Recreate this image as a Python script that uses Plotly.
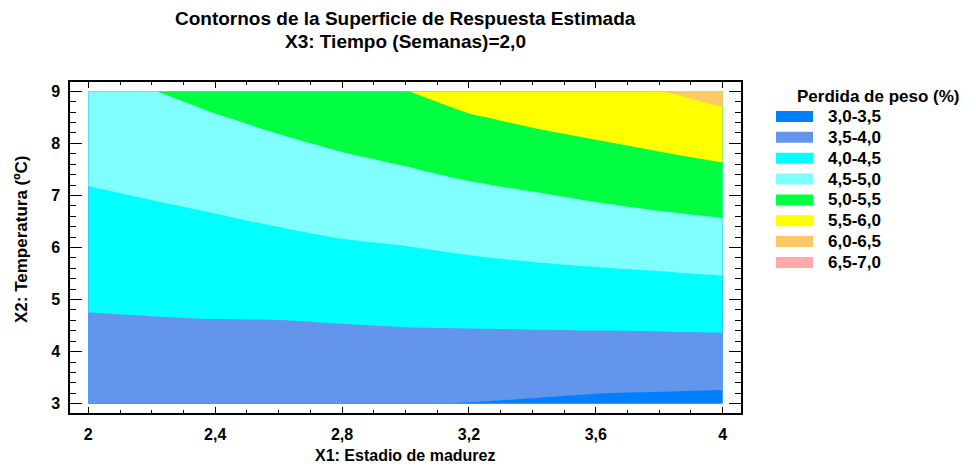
import plotly.graph_objects as go

# ---- data ----
x_vals = [2.0, 2.2, 2.4, 2.6, 2.8, 3.0, 3.2, 3.4, 3.6, 3.8, 4.0]          # X1: Estadio de madurez
y_vals = [3.0, 3.5, 4.0, 4.5, 5.0, 5.5, 6.0, 6.5, 7.0, 7.5, 8.0, 8.5, 9.0]  # X2: Temperatura
# estimated weight loss (%), one row per temperature, one column per stage
z_vals = [
    [3.65, 3.62, 3.60, 3.57, 3.54, 3.51, 3.49, 3.46, 3.42, 3.40, 3.38],
    [3.75, 3.73, 3.72, 3.70, 3.69, 3.67, 3.67, 3.65, 3.63, 3.62, 3.61],
    [3.85, 3.84, 3.84, 3.84, 3.84, 3.84, 3.84, 3.84, 3.83, 3.83, 3.84],
    [3.95, 3.96, 3.97, 3.97, 3.99, 4.01, 4.02, 4.03, 4.04, 4.05, 4.06],
    [4.05, 4.07, 4.09, 4.11, 4.14, 4.17, 4.20, 4.22, 4.25, 4.27, 4.29],
    [4.15, 4.18, 4.21, 4.25, 4.29, 4.33, 4.38, 4.42, 4.45, 4.48, 4.52],
    [4.26, 4.29, 4.34, 4.39, 4.45, 4.49, 4.55, 4.60, 4.65, 4.70, 4.75],
    [4.36, 4.41, 4.46, 4.53, 4.60, 4.66, 4.73, 4.79, 4.85, 4.91, 4.97],
    [4.46, 4.52, 4.59, 4.67, 4.75, 4.82, 4.90, 4.97, 5.05, 5.13, 5.20],
    [4.57, 4.64, 4.72, 4.81, 4.90, 4.98, 5.08, 5.17, 5.26, 5.35, 5.44],
    [4.68, 4.76, 4.85, 4.95, 5.05, 5.15, 5.28, 5.38, 5.47, 5.57, 5.67],
    [4.80, 4.87, 4.98, 5.09, 5.20, 5.32, 5.47, 5.58, 5.69, 5.78, 5.91],
    [4.91, 4.99, 5.12, 5.24, 5.36, 5.49, 5.67, 5.79, 5.91, 5.99, 6.14],
]
band_labels = ["3,0-3,5", "3,5-4,0", "4,0-4,5", "4,5-5,0",
               "5,0-5,5", "5,5-6,0", "6,0-6,5", "6,5-7,0"]
band_colors = ["#0080FF", "#6495ED", "#00FFFF", "#80FFFF",
               "#00FF40", "#FFFF00", "#FFC864", "#FFAAAA"]
level_start, level_end, level_step = 3.0, 7.0, 0.5

title_1 = "Contornos de la Superficie de Respuesta Estimada"
title_2 = "X3: Tiempo (Semanas)=2,0"
x_title = "X1: Estadio de madurez"
y_title = "X2: Temperatura (ºC)"
legend_title = "Perdida de peso (%)"

# ---- figure ----
OFF = 8                      # the page body adds an 8px margin
W, H = 976 - OFF, 466 - OFF
# plot frame in reference-picture pixels
FL, FR, FT, FB = 70, 741, 82, 413
L, R, T, B = FL - OFF, FR - OFF, FT - OFF, FB - OFF

def px(x):   # reference-picture pixel -> paper x
    return (x - FL) / (FR - FL)

def py(y):   # reference-picture pixel -> paper y
    return (FB - y) / (FB - FT)

# stepped colorscale: band k is sampled at (1+k)/9 by plotly's fill colouring
n = len(band_colors)
tot = n + 1
cscale = [[0, band_colors[0]]]
for k, c in enumerate(band_colors):
    lo = (k + 0.5) / tot if k > 0 else 0
    hi = (k + 1.5) / tot if k < n - 1 else 1
    cscale.append([lo, c])
    cscale.append([hi, c])

FONT = "Liberation Sans"

fig = go.Figure()
fig.add_trace(go.Contour(
    x=x_vals, y=y_vals, z=z_vals,
    contours=dict(start=level_start, end=level_end, size=level_step,
                  coloring="fill", showlines=False),
    line=dict(width=0, smoothing=0.9),
    colorscale=cscale,
    showscale=False,
    hoverinfo="skip",
))

def label(text, x, y, size, anchor="center", angle=0):
    return dict(text="<b>%s</b>" % text, x=px(x), y=py(y), xref="paper", yref="paper",
                showarrow=False, xanchor=anchor, yanchor="middle", textangle=angle,
                font=dict(family=FONT, size=size, color="black"))

ann = [
    label(title_1, 405, 19, 19),
    label(title_2, 405, 41, 19),
    label(x_title, 405, 455, 16),
    label(y_title, 21, 240, 17, angle=-90),
    label(legend_title, 795, 97, 17, anchor="left"),
]

shapes = []
for i, (lab, col) in enumerate(zip(band_labels, band_colors)):
    yc = 116.5 + 20.85 * i
    shapes.append(dict(type="rect", xref="paper", yref="paper",
                       x0=px(776), x1=px(813), y0=py(yc + 5.5), y1=py(yc - 5.5),
                       fillcolor=col, line=dict(width=0)))
    ann.append(label(lab, 826, yc, 17, anchor="left"))

# axis ranges from the reference tick positions (x=2 at 88.3px, x=4 at 722.7px; y=9 at 91.3px, y=3 at 403.7px)
x_per_px = 2.0 / (722.7 - 88.3)
y_per_px = 6.0 / (403.7 - 91.3)
xr = [2.0 - (88.3 - FL) * x_per_px, 4.0 + (FR - 722.7) * x_per_px]
yr = [3.0 - (FB - 403.7) * y_per_px, 9.0 + (91.3 - FT) * y_per_px]

tickfont = dict(family=FONT, size=16, color="black", weight="bold")
fig.update_layout(
    width=W, height=H,
    margin=dict(l=L, r=W - R, t=T, b=H - B, pad=0),
    paper_bgcolor="white", plot_bgcolor="white",
    separators=",.",
    showlegend=False,
    annotations=ann,
    shapes=shapes,
    xaxis=dict(range=xr, tick0=2, dtick=0.4, ticks="inside", ticklen=6, tickwidth=1,
               tickcolor="black", showline=True, linecolor="black", linewidth=1.5,
               mirror="ticks", showgrid=False, zeroline=False, tickfont=tickfont,
               ticklabelstandoff=6,
               minor=dict(tick0=2, dtick=0.1, ticks="inside", ticklen=3.5,
                          tickcolor="black", tickwidth=1, showgrid=False)),
    yaxis=dict(range=yr, tick0=3, dtick=1, ticks="inside", ticklen=12, tickwidth=1,
               tickcolor="black", showline=True, linecolor="black", linewidth=1.5,
               mirror="ticks", showgrid=False, zeroline=False, tickfont=tickfont,
               ticklabelstandoff=5,
               minor=dict(tick0=3, dtick=0.2, ticks="inside", ticklen=6,
                          tickcolor="black", tickwidth=1, showgrid=False)),
)

fig.write_html("out.html")
